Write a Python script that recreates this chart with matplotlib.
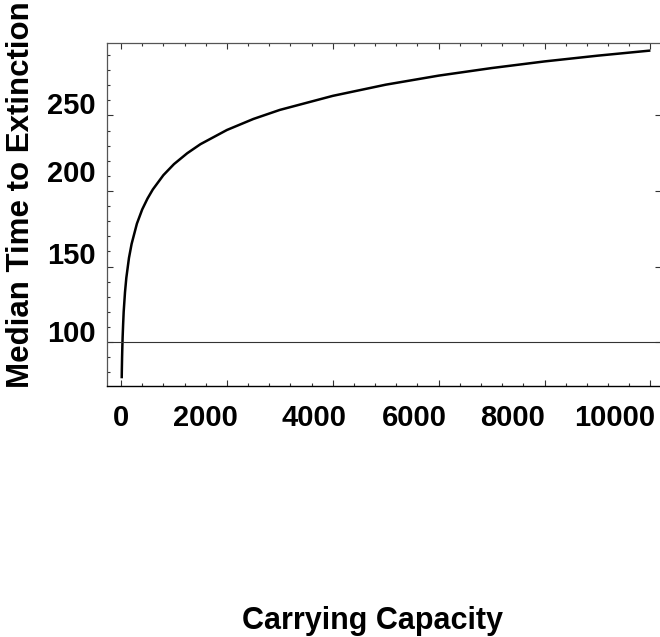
import matplotlib
matplotlib.use("Agg")
import matplotlib.pyplot as plt
from matplotlib.ticker import MultipleLocator, FixedLocator
from matplotlib.transforms import ScaledTranslation, blended_transform_factory

# ---- data ----
capacity = [13, 15, 20, 25, 30, 40, 50, 75, 100, 150, 200, 300, 400, 500, 600,
            800, 1000, 1250, 1500, 2000, 2500, 3000, 4000, 5000, 6000, 7000,
            8000, 9000, 10000]
median_time = [76, 81, 90, 97, 103, 112, 120, 133, 142.5, 155.7, 165, 178.4,
               187.8, 195, 201, 210.5, 217.8, 225, 231, 240.4, 247.7, 253.7,
               263, 270.4, 276.4, 281.4, 285.8, 289.6, 293]
reference_level = 100

xtick_values = [0, 2000, 4000, 6000, 8000, 10000]
xtick_labels = ["0", "2000", "4000", "6000", "8000", "10000"]
ytick_values = [100, 150, 200, 250]
ytick_labels = ["100", "150", "200", "250"]

# label placement offsets (pixels) as they appear in the reference
xlabel_shift = [0, -21, -19, -24, -32, -36]
ylabel_shift = [8, 11, 17, 9]

plt.rcParams['font.family'] = ['Liberation Sans', 'DejaVu Sans']
plt.rcParams['font.weight'] = 'bold'

fig = plt.figure(figsize=(6.6, 6.37), dpi=100)
ax = fig.add_axes([107/660, 1-386/637, (661-107)/660, (386-43)/637])

ax.plot(capacity, median_time, color='black', lw=1.8, solid_capstyle='butt')
ax.axhline(reference_level, color='#333333', lw=0.8)

ax.set_xlim(-265, 10200)
ax.set_ylim(70.9, 298)

ax.xaxis.set_major_locator(FixedLocator(xtick_values))
ax.xaxis.set_minor_locator(MultipleLocator(400))
ax.yaxis.set_major_locator(FixedLocator(ytick_values))
ax.yaxis.set_minor_locator(MultipleLocator(10))
ax.tick_params(which='both', direction='in', top=True, right=True,
               labelbottom=False, labelleft=False, color='#333333', width=0.8)
ax.tick_params(which='major', length=4)
ax.tick_params(which='minor', length=2.5)
ax.tick_params(axis='y', which='minor', right=False)

for side in ['left', 'top']:
    ax.spines[side].set_color('#555555')
    ax.spines[side].set_linewidth(0.9)
ax.spines['bottom'].set_color('black')
ax.spines['bottom'].set_linewidth(1.0)
ax.spines['right'].set_color('#555555')

# tick labels
tx = blended_transform_factory(ax.transData, ax.transAxes)
for v, lab, dx in zip(xtick_values, xtick_labels, xlabel_shift):
    tr = tx + ScaledTranslation(dx/100, -18/100, fig.dpi_scale_trans)
    ax.text(v, 0, lab, transform=tr, ha='center', va='top', fontsize=21,
            fontweight='bold', clip_on=False)

ty = blended_transform_factory(ax.transAxes, ax.transData)
for v, lab, dy in zip(ytick_values, ytick_labels, ylabel_shift):
    tr = ty + ScaledTranslation(-11/100, dy/100, fig.dpi_scale_trans)
    ax.text(0, v, lab, transform=tr, ha='right', va='center', fontsize=21,
            fontweight='bold', clip_on=False)

fig.text(21/660, 1-195/637, "Median Time to Extinction", rotation=90,
         ha='center', va='center', fontsize=22.5, fontweight='bold')
fig.text(242/660, 1-606/637, "Carrying Capacity", ha='left', va='top',
         fontsize=22, fontweight='bold')

fig.savefig("out.png", dpi=100)
